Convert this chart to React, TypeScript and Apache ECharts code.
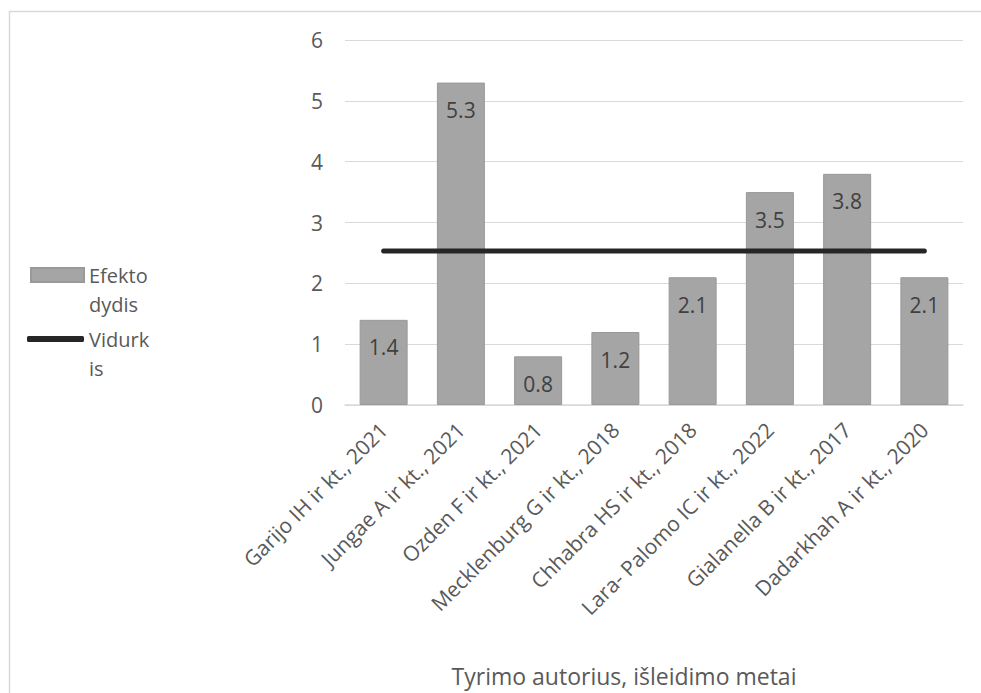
import React, { useEffect, useRef } from "react";
import * as echarts from "echarts";

const categories = [
  "Garijo IH ir kt., 2021",
  "Jungae A ir kt., 2021",
  "Ozden F ir kt., 2021",
  "Mecklenburg G ir kt., 2018",
  "Chhabra HS ir kt., 2018",
  "Lara- Palomo IC ir kt., 2022",
  "Gialanella B ir kt., 2017",
  "Dadarkhah A ir kt., 2020",
];
const effectSizes = [1.4, 5.3, 0.8, 1.2, 2.1, 3.5, 3.8, 2.1];
const meanValues = [2.53, 2.53, 2.53, 2.53, 2.53, 2.53, 2.53, 2.53];
const barName = "Efekto dydis";
const lineName = "Vidurkis";
const legendLines: Record<string, string[]> = {
  "Efekto dydis": ["Efekto", "dydis"],
  Vidurkis: ["Vidurk", "is"],
};
const xTitle = "Tyrimo autorius, išleidimo metai";

const FONT = "'Open Sans', 'Noto Sans', sans-serif";

export default function App() {
  const ref = useRef<HTMLDivElement>(null);
  useEffect(() => {
    if (!ref.current) return;
    const chart = echarts.init(ref.current, undefined, { renderer: "svg" });
    const legendText = {
      color: "#595959",
      fontSize: 20,
      fontFamily: FONT,
      rich: {
        e: { fontSize: 20, lineHeight: 29, fontFamily: FONT },
        t: { fontSize: 20, lineHeight: 29, color: "#595959", fontFamily: FONT },
      },
    };
    const fmt = (n: string) =>
      "{e| }\n" + legendLines[n].map((s) => "{t|" + s + "}").join("\n");
    chart.setOption({
      animation: false,
      backgroundColor: "#ffffff",
      graphic: [
        {
          type: "rect",
          shape: { x: 9.5, y: 11.5, width: 1000, height: 1000 },
          style: { fill: "none", stroke: "#d9d9d9", lineWidth: 1.5 },
          silent: true,
        },
      ],
      legend: [
        {
          data: [{ name: barName, icon: "rect" }],
          left: 30,
          top: 236,
          padding: 0,
          orient: "vertical",
          itemWidth: 53,
          itemHeight: 14,
          itemGap: 0,
          formatter: fmt,
          textStyle: legendText,
        },
        {
          data: [{ name: lineName, icon: "roundRect" }],
          left: 27,
          top: 300,
          padding: 0,
          orient: "vertical",
          itemWidth: 57,
          itemHeight: 6,
          itemGap: 0,
          formatter: fmt,
          textStyle: legendText,
        },
      ],
      grid: { left: 345, right: 18, top: 40, bottom: 288, containLabel: false },
      xAxis: {
        type: "category",
        data: categories,
        name: xTitle,
        nameLocation: "middle",
        nameGap: 259,
        nameTextStyle: {
          color: "#595959",
          fontSize: 23,
          fontFamily: FONT,
          padding: [0, 60, 0, 0],
        },
        axisLine: { show: true, lineStyle: { color: "#d9d9d9", width: 1.5 } },
        axisTick: { show: false },
        axisLabel: {
          interval: 0,
          rotate: 45,
          margin: 21,
          color: "#595959",
          fontSize: 21,
          fontFamily: FONT,
        },
      },
      yAxis: {
        type: "value",
        min: 0,
        max: 6,
        interval: 1,
        axisLine: { show: false },
        axisTick: { show: false },
        splitLine: { lineStyle: { color: "#d9d9d9", width: 1 } },
        axisLabel: { color: "#595959", fontSize: 21, fontFamily: FONT, margin: 22 },
      },
      series: [
        {
          name: barName,
          type: "bar",
          data: effectSizes,
          barWidth: 48,
          itemStyle: { color: "#a5a5a5", borderColor: "#999999", borderWidth: 1 },
          label: {
            show: true,
            position: "insideTop",
            distance: 17,
            color: "#404040",
            fontSize: 21,
            fontFamily: FONT,
          },
        },
        {
          name: lineName,
          type: "line",
          data: meanValues,
          symbol: "none",
          lineStyle: { color: "#262626", width: 5, cap: "round" },
          itemStyle: { color: "#262626" },
        },
      ],
    });
    return () => chart.dispose();
  }, []);
  return (
    <div
      ref={ref}
      style={{ position: "absolute", left: 0, top: 0, width: 981, height: 693 }}
    />
  );
}
